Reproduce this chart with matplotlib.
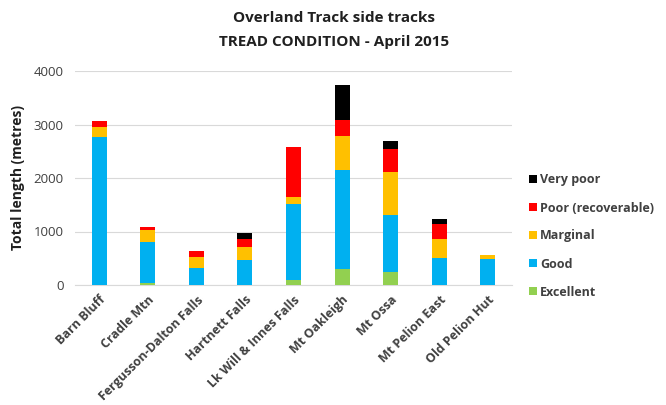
import matplotlib
matplotlib.use("Agg")
import matplotlib.pyplot as plt
import numpy as np

categories = ["Barn Bluff", "Cradle Mtn", "Fergusson-Dalton Falls", "Hartnett Falls",
              "Lk Will & Innes Falls", "Mt Oakleigh", "Mt Ossa", "Mt Pelion East", "Old Pelion Hut"]
excellent = [0, 30, 0, 0, 90, 300, 244, 0, 0]
good = [2770, 780, 313, 470, 1430, 1846, 1056, 500, 480]
marginal = [180, 225, 218, 240, 120, 637, 820, 357, 80]
poor = [120, 45, 107, 155, 940, 300, 413, 275, 0]
very_poor = [0, 0, 0, 105, 0, 650, 163, 100, 0]
yticks = [0, 1000, 2000, 3000, 4000]

series = [("Excellent", excellent, "#92D050"),
          ("Good", good, "#00B0F0"),
          ("Marginal", marginal, "#FFC000"),
          ("Poor (recoverable)", poor, "#FF0000"),
          ("Very poor", very_poor, "#000000")]

plt.rcParams['font.family'] = ['Open Sans', 'DejaVu Sans']

fig = plt.figure(figsize=(6.66, 4.05), dpi=100)
ax = fig.add_axes([75/666, 1-285/405, (512-75)/666, (285-71)/405])

x = np.arange(len(categories))
bottom = np.zeros(len(categories))
handles = []
for name, vals, col in series:
    b = ax.bar(x, vals, bottom=bottom, width=0.31, color=col, label=name, zorder=3)
    bottom += np.array(vals)
    handles.append(b)

ax.set_xlim(-0.5, len(categories) - 0.5)
ax.set_ylim(0, 4000)
ax.set_yticks(yticks)
ax.set_yticklabels([str(v) for v in yticks], fontsize=9.5, color="#404040")
ax.yaxis.grid(True, color="#D9D9D9", linewidth=0.8, zorder=0)
for s in ["top", "right", "left"]:
    ax.spines[s].set_visible(False)
ax.spines["bottom"].set_color("#D9D9D9")
ax.tick_params(axis="both", length=0)
ax.tick_params(axis="y", pad=8)
ax.set_xticks(x)
ax.set_xticklabels(categories, rotation=45, ha="right", rotation_mode="anchor",
                   fontsize=9, fontweight="bold", color="#404040")
ax.tick_params(axis="x", pad=6)

ax.set_ylabel("Total length (metres)", fontsize=10, fontweight="bold", color="#202020", labelpad=6)

fig.text(0.502, 1-18/405, "Overland Track side tracks", ha="center", va="center",
         fontsize=11, fontweight="bold", color="#202020")
fig.text(0.502, 1-42/405, "TREAD CONDITION - April 2015", ha="center", va="center",
         fontsize=11, fontweight="bold", color="#202020")

leg = fig.legend(handles=handles[::-1], labels=[s[0] for s in series[::-1]],
                 loc="center left", bbox_to_anchor=(524/666, 1-236/405), frameon=False,
                 fontsize=9, handlelength=0.6, handleheight=0.6, handletextpad=0.3,
                 labelspacing=1.2, borderaxespad=0)
for t in leg.get_texts():
    t.set_color("#404040")
    t.set_fontweight("bold")

fig.savefig("out.png", dpi=100)
